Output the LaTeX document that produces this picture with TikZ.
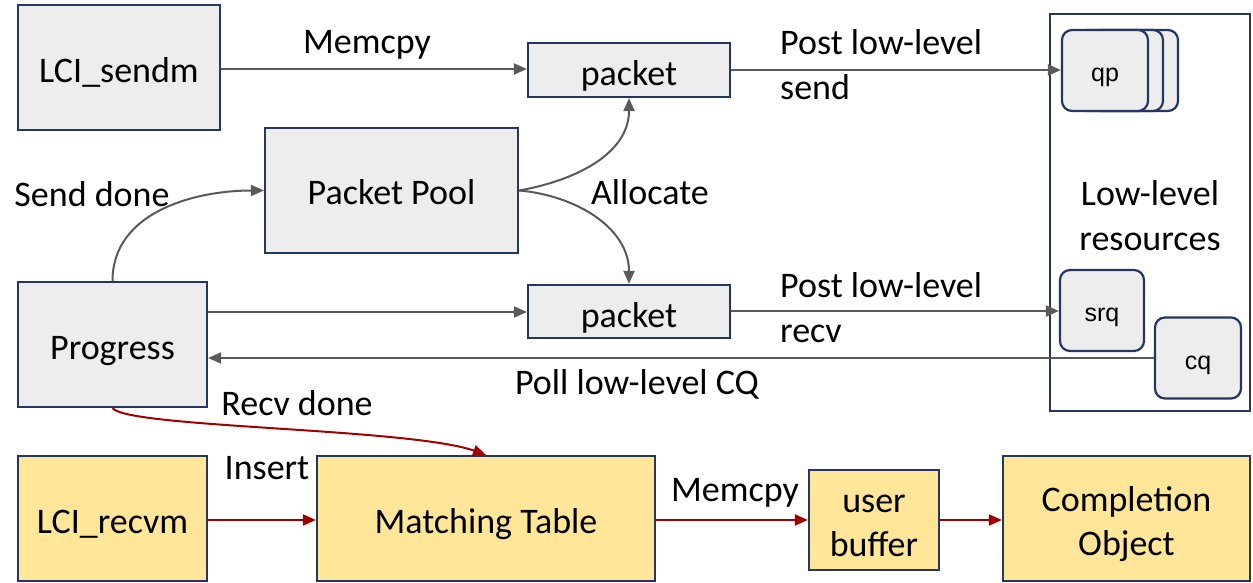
\documentclass[tikz,border=0pt]{standalone}
\usepackage{fontspec}
\setmainfont{Carlito}
\newfontfamily\arialf{Liberation Sans}
\usetikzlibrary{arrows.meta}
\definecolor{navy}{RGB}{38,55,95}
\definecolor{boxgray}{RGB}{237,237,237}
\definecolor{boxyel}{RGB}{255,230,153}
\definecolor{arrgray}{RGB}{89,89,89}
\definecolor{darkred}{RGB}{160,0,0}
\newcommand\lowtxt[2][12pt]{\raisebox{0pt}[\dimexpr\height+#1\relax][\depth]{\begin{tabular}{@{}c@{}}#2\end{tabular}}}
\newcommand\lowone[1]{\raisebox{0pt}[\dimexpr\height+12pt\relax][\depth]{#1}}
\begin{document}
\begin{tikzpicture}[x=1pt,y=-1pt,
  gbox/.style={draw=navy, line width=2.2pt, fill=boxgray, inner sep=0pt, font=\fontsize{36}{44}\selectfont, align=center},
  ybox/.style={gbox, fill=boxyel},
  rbox/.style={draw=navy, line width=2.2pt, fill=boxgray, rounded corners=10pt, inner sep=0pt, font=\arialf\fontsize{25}{30}\selectfont, minimum width=86, minimum height=81},
  lbl/.style={font=\fontsize{36}{45}\selectfont, inner sep=0pt, align=center},
  garr/.style={draw=arrgray, line width=2pt, -{Triangle[length=13pt,width=11pt]}},
  rarr/.style={draw=darkred, line width=2pt, -{Triangle[length=13pt,width=11pt]}}]
\useasboundingbox (0,0) rectangle (1253,583);
% boxes
\node[gbox, minimum width=202, minimum height=125] (sendm) at (119,67.5) {\lowtxt{LCI\_sendm}};
\node[gbox, minimum width=202, minimum height=54] (pkt1) at (629,70) {\lowone{packet}};
\node[gbox, minimum width=253, minimum height=125] (pool) at (391.5,190.5) {\lowtxt[11pt]{Packet Pool}};
\node[gbox, minimum width=189, minimum height=125] (prog) at (112.5,344.5) {\lowtxt{Progress}};
\node[gbox, minimum width=202, minimum height=53] (pkt2) at (629,311.5) {\lowone{packet}};
\node[draw=navy, line width=2.2pt, fill=white, inner sep=0pt, minimum width=200, minimum height=397] (res) at (1150,212.5) {};
\node[lbl] (reslbl) at (1150,216) {Low-level\\resources};
\node[rbox] (qp3) at (1135,70.5) {};
\node[rbox] (qp2) at (1120,70.5) {};
\node[rbox] (qp) at (1105,70.5) {\lowtxt[10pt]{qp}};
\node[rbox, minimum width=84] (srq) at (1102,310.5) {\lowtxt[10pt]{srq}};
\node[rbox] (cq) at (1198,358) {\lowtxt[10pt]{cq}};
\node[ybox, minimum width=189, minimum height=125] (recvm) at (112.5,518.5) {\lowtxt{LCI\_recvm}};
\node[ybox, minimum width=338, minimum height=125] (match) at (486,518.5) {\lowtxt{Matching Table}};
\node[ybox, minimum width=130, minimum height=90] (ubuf) at (874,520) {\lowtxt{user\\buffer}};
\node[ybox, minimum width=247, minimum height=125] (comp) at (1126.5,518.5) {\lowtxt{Completion\\Object}};
% gray connectors
\draw[garr] (sendm.east |- 0,69) -- (pkt1.west |- 0,69);
\draw[garr] (pkt1.east |- 0,70) -- (qp.west |- 0,70);
\draw[garr] (pool.east) to[out=10,in=-90] (pkt1.south);
\draw[garr] (pool.east) to[out=-5,in=90] (pkt2.north);
\draw[garr] (prog.north) to[out=90,in=180] (pool.west);
\draw[garr] (prog.east |- 0,312) -- (pkt2.west |- 0,312);
\draw[garr] (pkt2.east |- 0,311) -- (srq.west |- 0,311);
\draw[garr] (cq.west |- 0,358) -- (prog.east |- 0,358);
% red connectors
\draw[rarr] (prog.south) .. controls (128,428) and (410,428) .. (match.north);
\draw[rarr] (recvm.east |- 0,520) -- (match.west |- 0,520);
\draw[rarr] (match.east |- 0,520) -- (ubuf.west |- 0,520);
\draw[rarr] (ubuf.east |- 0,520) -- (comp.west |- 0,520);
% labels
\node[lbl] (l1) at (367,45) {Memcpy};
\node[lbl, anchor=west, align=left] (l2) at (780,65) {Post low-level\\send};
\node[lbl] (l3) at (650,192) {Allocate};
\node[lbl] (l4) at (92,194) {Send done};
\node[lbl, anchor=west, align=left] (l5) at (780,308) {Post low-level\\recv};
\node[lbl] (l6) at (637,384) {Poll low-level CQ};
\node[lbl] (l7) at (297,403) {Recv done};
\node[lbl] (l8) at (267,468) {Insert};
\node[lbl] (l9) at (735,493) {Memcpy};
\end{tikzpicture}
\end{document}
